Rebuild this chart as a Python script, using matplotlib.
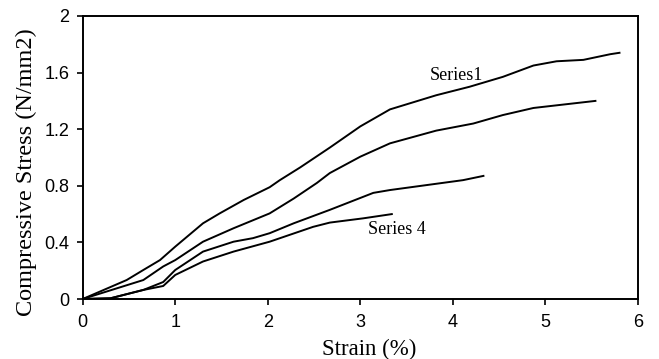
import matplotlib
matplotlib.use("Agg")
import matplotlib.pyplot as plt

# Strain (%) / compressive stress (N/mm2) for the four specimens
strain_1 = [0, 0.475, 0.655, 0.835, 1.0, 1.30, 1.48, 1.74, 2.02, 2.13, 2.35, 2.67, 3.0, 3.32, 3.82, 4.18, 4.54, 4.87, 5.12, 5.41, 5.70, 5.80]
stress_1 = [0, 0.134, 0.205, 0.275, 0.37, 0.535, 0.605, 0.70, 0.79, 0.84, 0.93, 1.07, 1.22, 1.34, 1.44, 1.50, 1.57, 1.65, 1.68, 1.69, 1.73, 1.74]

strain_2 = [0, 0.655, 0.87, 1.0, 1.30, 1.63, 2.02, 2.28, 2.53, 2.67, 3.0, 3.32, 3.82, 4.22, 4.54, 4.87, 5.54]
stress_2 = [0, 0.134, 0.23, 0.275, 0.405, 0.50, 0.605, 0.71, 0.82, 0.89, 1.006, 1.10, 1.19, 1.24, 1.30, 1.35, 1.40]

strain_3 = [0, 0.3, 0.655, 0.87, 1.0, 1.30, 1.63, 1.84, 2.02, 2.28, 2.67, 3.14, 3.32, 4.11, 4.33]
stress_3 = [0, 0.005, 0.064, 0.12, 0.205, 0.335, 0.405, 0.43, 0.465, 0.535, 0.63, 0.75, 0.77, 0.84, 0.87]

strain_4 = [0, 0.3, 0.655, 0.87, 1.0, 1.30, 1.63, 2.02, 2.49, 2.67, 3.03, 3.34]
stress_4 = [0, 0.005, 0.064, 0.092, 0.17, 0.265, 0.335, 0.405, 0.51, 0.54, 0.57, 0.60]

x_ticks = [0, 1, 2, 3, 4, 5, 6]
y_ticks = [0, 0.4, 0.8, 1.2, 1.6, 2]
y_tick_labels = ["0", "0.4", "0.8", "1.2", "1.6", "2"]

W, H = 659, 359
fig = plt.figure(figsize=(W / 100, H / 100), dpi=100)
ax = fig.add_axes([82.7 / W, 1 - 299 / H, (638 - 82.7) / W, (299 - 16) / H])

for xs, ys in [(strain_1, stress_1), (strain_2, stress_2), (strain_3, stress_3), (strain_4, stress_4)]:
    ax.plot(xs, ys, color="black", linewidth=1.4)

ax.set_xlim(0, 6)
ax.set_ylim(0, 2)
ax.set_xticks(x_ticks)
ax.set_yticks(y_ticks)
ax.set_yticklabels(y_tick_labels)
for lbl in ax.get_xticklabels() + ax.get_yticklabels():
    lbl.set_family("Liberation Sans")
    lbl.set_fontsize(13)
ax.tick_params(direction="out", length=4.5, width=1.2)
ax.tick_params(axis="y", pad=5)
ax.tick_params(axis="x", pad=6.5)
for s in ax.spines.values():
    s.set_linewidth(1.4)

serif = "Liberation Serif"
ax.text(4.04, 1.58, "Series1", family=serif, fontsize=13, ha="center", va="center")
ax.text(3.39, 0.49, "Series 4", family=serif, fontsize=13, ha="center", va="center")

# axis titles sit a bit off-centre in the original
fig.text(369.5 / W, 1 - 349 / H, "Strain (%)", family=serif, fontsize=16.5, ha="center", va="center")
fig.text(26 / W, 1 - 172 / H, "Compressive Stress (N/mm2)", family=serif, fontsize=17.5,
         rotation=90, ha="center", va="center")

fig.savefig("out.png", dpi=100)
